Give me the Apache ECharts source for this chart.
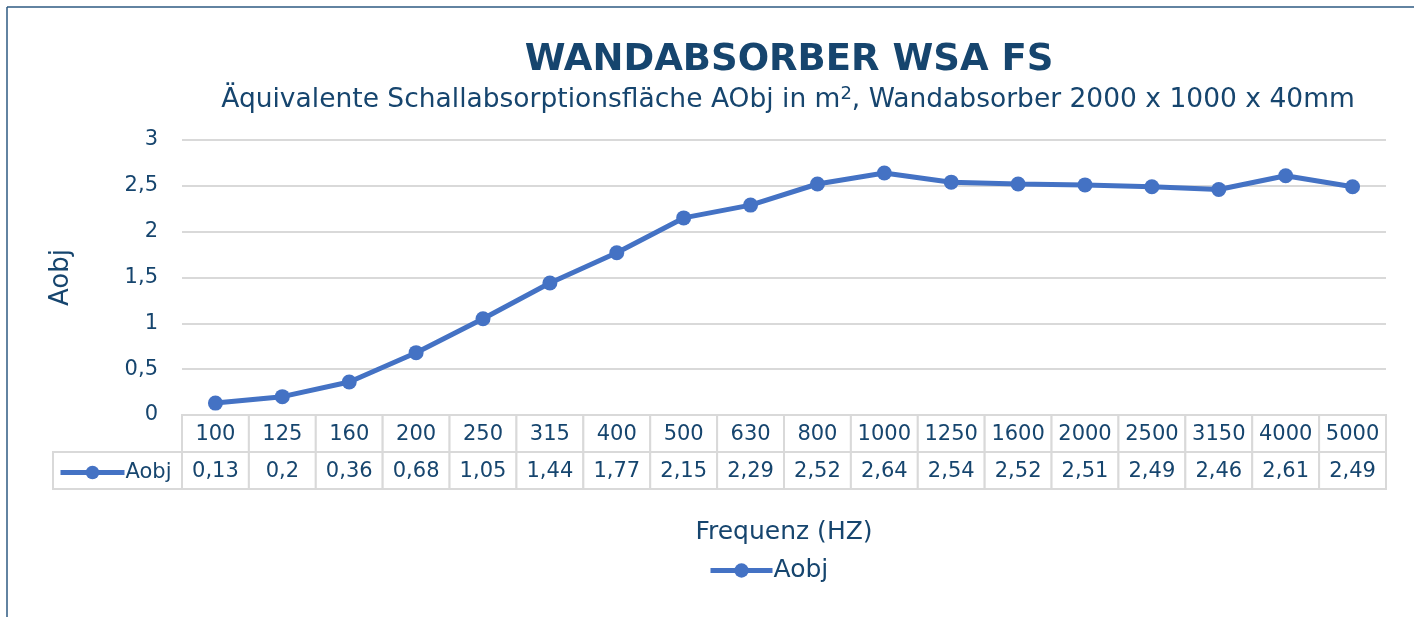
<!DOCTYPE html>
<html>
<head>
<meta charset="utf-8">
<script src="https://cdn.jsdelivr.net/npm/echarts@6/dist/echarts.min.js"></script>
<style>
  html, body { margin: 0; padding: 0; background: #fff; }
  #chart { width: 1414px; height: 617px; }
</style>
</head>
<body>
<div id="chart"></div>
<script>
var frequencies = ['100', '125', '160', '200', '250', '315', '400', '500', '630', '800', '1000', '1250', '1600', '2000', '2500', '3150', '4000', '5000'];
var aobj = [0.13, 0.2, 0.36, 0.68, 1.05, 1.44, 1.77, 2.15, 2.29, 2.52, 2.64, 2.54, 2.52, 2.51, 2.49, 2.46, 2.61, 2.49];
var tableRows = ['freq', 'value'];

var textColor = '#16456e';
var lineColor = '#4472c4';
var gridColor = '#d9d9d9';
var font = '"DejaVu Sans", sans-serif';

function comma(v) {
    return String(v).replace('.', ',');
}

// cells of the data table below the plot
var tableCells = [];
frequencies.forEach(function (f, i) {
    tableCells.push([i, 0, f]);
    tableCells.push([i, 1, comma(aobj[i])]);
});

var myChart = echarts.init(document.getElementById('chart'));
myChart.setOption({
    backgroundColor: '#fff',
    textStyle: {fontFamily: font, color: textColor},
    title: [
        {
            text: 'WANDABSORBER WSA FS',
            left: 784,
            textAlign: 'center',
            top: 37,
            textStyle: {fontSize: 37, fontWeight: 'bold', color: textColor, fontFamily: font}
        },
        {
            text: 'Äquivalente Schallabsorptionsfläche AObj in m{sup|2}, Wandabsorber 2000 x 1000 x 40mm',
            left: 783,
            textAlign: 'center',
            top: 80,
            textStyle: {
                fontSize: 26.5, fontWeight: 'normal', color: textColor, fontFamily: font,
                rich: {sup: {fontSize: 18, verticalAlign: 'top', padding: [0, 0, 12, 0], color: textColor, fontFamily: font}}
            }
        }
    ],
    legend: [
        {
            data: ['Aobj'],
            left: 708,
            top: 558,
            padding: 0,
            itemWidth: 62,
            itemHeight: 18,
            itemGap: 4,
            lineStyle: {width: 5},
            textStyle: {fontSize: 25, color: textColor, fontFamily: font, padding: [0, 0, 0, -4]}
        },
        {
            data: ['Aobj'],
            left: 58,
            top: 462,
            padding: 0,
            itemWidth: 64,
            itemHeight: 17,
            lineStyle: {width: 5},
            textStyle: {fontSize: 21, color: textColor, fontFamily: font, padding: [0, 0, 0, -4]}
        }
    ],
    grid: [
        {left: 182, right: 28, top: 140, height: 275},
        {left: 182, right: 28, top: 415, height: 74}
    ],
    xAxis: [
        {
            type: 'category',
            gridIndex: 0,
            data: frequencies,
            boundaryGap: true,
            axisLine: {show: false},
            axisTick: {show: false},
            axisLabel: {show: false},
            name: 'Frequenz (HZ)',
            nameLocation: 'middle',
            nameGap: 105,
            nameTextStyle: {fontSize: 25, color: textColor, fontFamily: font}
        },
        {
            type: 'category',
            gridIndex: 1,
            data: frequencies,
            show: false
        }
    ],
    yAxis: [
        {
            type: 'value',
            gridIndex: 0,
            min: 0,
            max: 3,
            interval: 0.5,
            axisLine: {show: false},
            axisTick: {show: false},
            axisLabel: {
                fontSize: 21,
                color: textColor,
                margin: 24,
                fontFamily: font,
                formatter: function (v) { return comma(v); }
            },
            splitLine: {lineStyle: {color: gridColor, width: 2}},
            name: 'Aobj',
            nameLocation: 'middle',
            nameRotate: 90,
            nameGap: 108,
            nameTextStyle: {fontSize: 26, color: textColor, fontFamily: font}
        },
        {
            type: 'category',
            gridIndex: 1,
            data: tableRows,
            inverse: true,
            show: false
        }
    ],
    graphic: [
        {type: 'line', shape: {x1: 7, y1: 7, x2: 1414, y2: 7}, style: {stroke: '#2e5a82', lineWidth: 1.5}},
        {type: 'line', shape: {x1: 7, y1: 7, x2: 7, y2: 617}, style: {stroke: '#2e5a82', lineWidth: 1.5}},
        {type: 'rect', shape: {x: 53, y: 452, width: 129, height: 37}, style: {fill: 'none', stroke: gridColor, lineWidth: 2}, z: 1}
    ],
    series: [
        {
            name: 'Aobj',
            type: 'line',
            xAxisIndex: 0,
            yAxisIndex: 0,
            data: aobj,
            symbol: 'circle',
            symbolSize: 15,
            lineStyle: {color: lineColor, width: 5},
            itemStyle: {color: lineColor},
            z: 5
        },
        {
            name: 'table',
            type: 'custom',
            xAxisIndex: 1,
            yAxisIndex: 1,
            data: tableCells,
            silent: true,
            renderItem: function (params, api) {
                var c = api.coord([api.value(0), api.value(1)]);
                var s = api.size([1, 1]);
                return {
                    type: 'group',
                    children: [
                        {
                            type: 'rect',
                            shape: {x: c[0] - s[0] / 2, y: c[1] - s[1] / 2, width: s[0], height: s[1]},
                            style: {fill: '#fff', stroke: gridColor, lineWidth: 2}
                        },
                        {
                            type: 'text',
                            style: {
                                text: tableCells[params.dataIndex][2],
                                x: c[0],
                                y: c[1] + 1,
                                align: 'center',
                                verticalAlign: 'middle',
                                fill: textColor,
                                fontSize: 21,
                                fontFamily: font
                            }
                        }
                    ]
                };
            }
        }
    ]
});
</script>
</body>
</html>
